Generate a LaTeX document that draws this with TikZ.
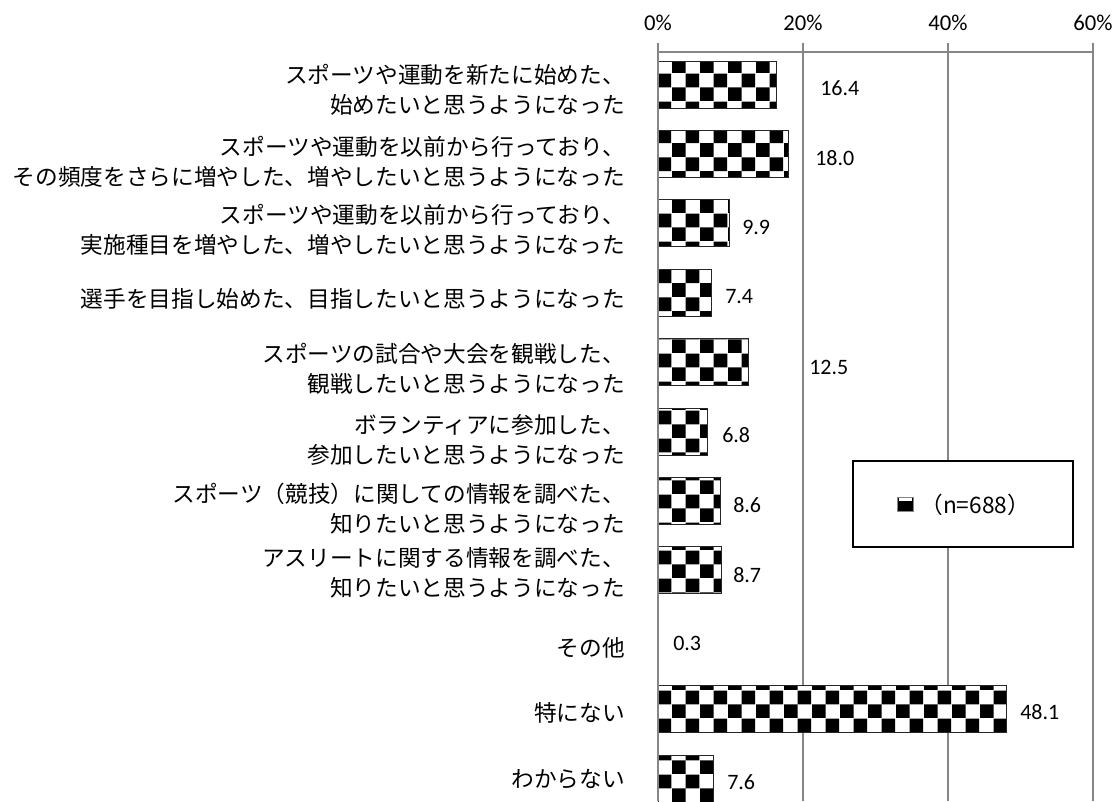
\documentclass[tikz,border=0pt]{standalone}
\usepackage{fontspec}
\setmainfont{Carlito}
\newfontfamily\jpfont{Noto Sans CJK JP}
\usetikzlibrary{positioning,patterns.meta}

\definecolor{gridgray}{RGB}{134,134,134}

\tikzdeclarepattern{
  name=bigcheck,
  type=uncolored,
  bottom left={(0pt,0pt)},
  top right={(21pt,21pt)},
  tile size={(21pt,21pt)},
  code={
    \fill (0pt,0pt) rectangle (10.5pt,10.5pt);
    \fill (10.5pt,10.5pt) rectangle (21pt,21pt);
  }
}

\begin{document}
\begin{tikzpicture}[x=0.75pt, y=-0.75pt,
    gridline/.style={draw=gridgray, line width=2pt},
    bar/.style={preaction={fill=white}, pattern=bigcheck, pattern color=black,
      draw=black!85, line width=0.75pt},
    cat/.style={anchor=east, align=right, inner sep=0pt,
      font=\jpfont\fontsize{17}{22.5}\selectfont},
    val/.style={anchor=west, inner sep=0pt, font=\fontsize{16.5}{20}\selectfont},
    axislabel/.style={inner sep=0pt, font=\fontsize{17}{20}\selectfont},
    legbox/.style={draw=black, line width=1.8pt, fill=white,
      minimum width=165pt, minimum height=64.5pt},
    legkey/.style={draw=gridgray, line width=0.75pt, fill=black, inner sep=0pt,
      minimum width=12pt, minimum height=11pt}]

    \useasboundingbox (0,0) rectangle (1118,801);
    \fill[white] (0,0) rectangle (1118,801);

    % Axis

    \node[axislabel] (p0) at (658,23) {0\%};
    \node[axislabel] (p20) at (803,23) {20\%};
    \node[axislabel] (p40) at (948,23) {40\%};
    \node[axislabel] (p60) at (1093,23) {60\%};

    \draw[gridline] (658,52) -- (1093,52);
    \draw[gridline] (803,43) -- (803,801);
    \draw[gridline] (948,43) -- (948,801);
    \draw[gridline] (1093,43) -- (1093,801);

    % Bars (0.3 is hidden behind the axis)

    \draw[bar] (658,61) rectangle ({658+7.25*16.4},108);
    \draw[bar] (658,130.4) rectangle ({658+7.25*18.0},177.4);
    \draw[bar] (658,199.8) rectangle ({658+7.25*9.9},246.8);
    \draw[bar] (658,269.2) rectangle ({658+7.25*7.4},316.2);
    \draw[bar] (658,338.6) rectangle ({658+7.25*12.5},385.6);
    \draw[bar] (658,408) rectangle ({658+7.25*6.8},455);
    \draw[bar] (658,477.4) rectangle ({658+7.25*8.6},524.4);
    \draw[bar] (658,546.8) rectangle ({658+7.25*8.7},593.8);
    \draw[bar] (658,685.6) rectangle ({658+7.25*48.1},732.6);
    \draw[bar] (658,755) rectangle ({658+7.25*7.6},802);

    \draw[gridline] (658,43) -- (658,801);

    % Values

    \node[val] (v1) at (820,88) {16.4};
    \node[val] (v2) at (815,158) {18.0};
    \node[val] (v3) at (742,227) {9.9};
    \node[val] (v4) at (725,297) {7.4};
    \node[val] (v5) at (809,367) {12.5};
    \node[val] (v6) at (722,435) {6.8};
    \node[val] (v7) at (733,505) {8.6};
    \node[val] (v8) at (733,575) {8.7};
    \node[val] (v9) at (673,643) {0.3};
    \node[val] (v10) at (1020,712) {48.1};
    \node[val] (v11) at (727,782) {7.6};

    % Categories

    \node[cat] (c1) at (625,90) {スポーツや運動を新たに始めた、\\始めたいと思うようになった};
    \node[cat] (c2) at (625,162) {スポーツや運動を以前から行っており、\\その頻度をさらに増やした、増やしたいと思うようになった};
    \node[cat] (c3) at (625,230) {スポーツや運動を以前から行っており、\\実施種目を増やした、増やしたいと思うようになった};
    \node[cat] (c4) at (625,299) {選手を目指し始めた、目指したいと思うようになった};
    \node[cat] (c5) at (625,369) {スポーツの試合や大会を観戦した、\\観戦したいと思うようになった};
    \node[cat] (c6) at (625,440) {ボランティアに参加した、\\参加したいと思うようになった};
    \node[cat] (c7) at (625,509) {スポーツ（競技）に関しての情報を調べた、\\知りたいと思うようになった};
    \node[cat] (c8) at (625,573) {アスリートに関する情報を調べた、\\知りたいと思うようになった};
    \node[cat] (c9) at (625,648) {その他};
    \node[cat] (c10) at (625,713) {特にない};
    \node[cat] (c11) at (625,779) {わからない};

    % Legend

    \node[legbox] (legend) at (963,504) {};
    \node[legkey] (key) at (905,504.5) {};
    \fill[white] ([shift={(1.5pt,-1.2pt)}]key.north west) rectangle ([shift={(-1.5pt,-3.5pt)}]key.north east);
    \node[right=5pt of key, inner sep=0pt, font=\jpfont\fontsize{17}{20}\selectfont] (legtext) {（n=688）};

\end{tikzpicture}
\end{document}
